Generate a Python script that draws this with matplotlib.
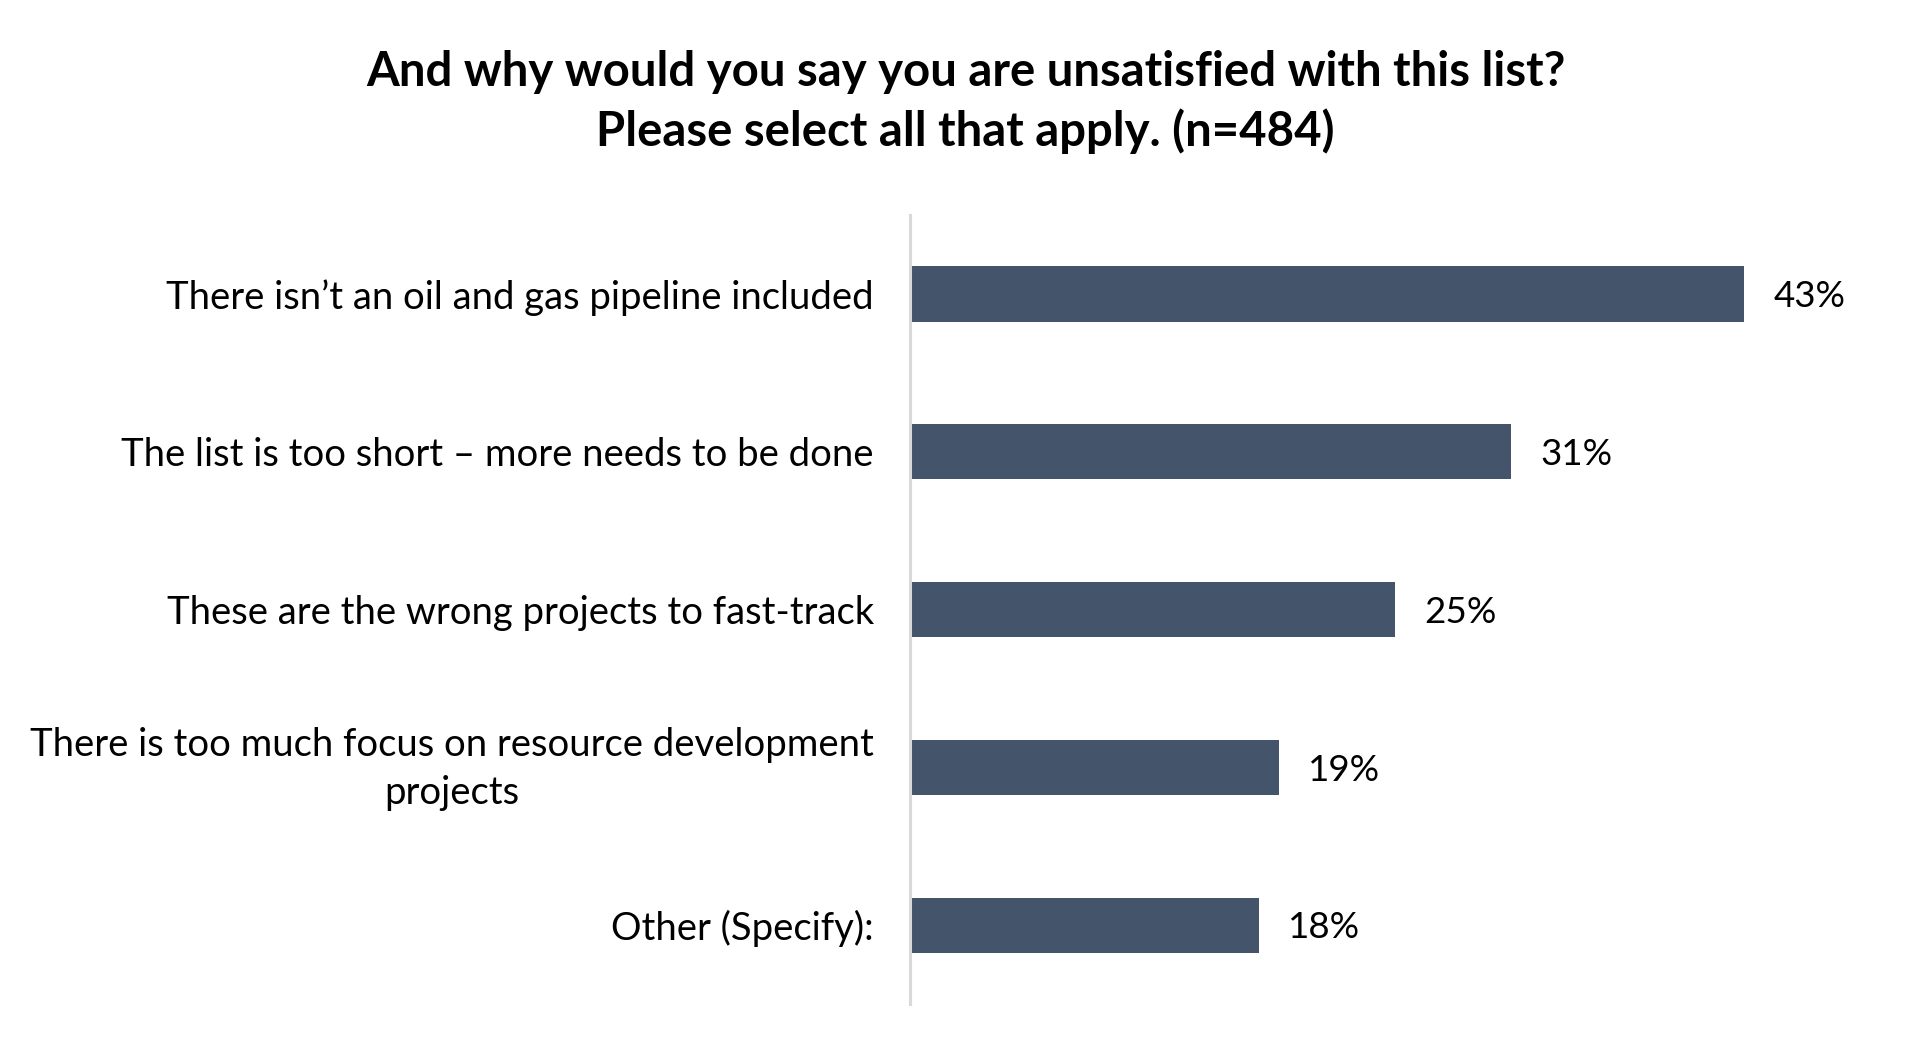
import matplotlib
matplotlib.use("Agg")
import matplotlib.pyplot as plt
from matplotlib.transforms import ScaledTranslation

# ----------------------------------------------------------------------
# data
# ----------------------------------------------------------------------
categories = [
    "There isn\u2019t an oil and gas pipeline included",
    "The list is too short \u2013 more needs to be done",
    "These are the wrong projects to fast-track",
    "There is too much focus on resource development\nprojects",
    "Other (Specify):",
]
values = [43, 31, 25, 19, 18]
value_labels = ["43%", "31%", "25%", "19%", "18%"]

TITLE = ("And why would you say you are unsatisfied with this list?\n"
         "Please select all that apply. (n=484)")

BAR = "#44546a"
AXIS = "#d9d9d9"
FONT = "Lato"

plt.rcParams["font.family"] = [FONT, "DejaVu Sans"]

fig = plt.figure(figsize=(19.31, 10.54), dpi=100)
ax = fig.add_axes([0.4713, 0.0474, 0.5023, 0.7486])

y = list(range(len(categories)))
ax.barh(y, values, height=0.35, color=BAR)

for yi, v, lab in zip(y, values, value_labels):
    ax.annotate(lab, (v, yi), xytext=(21, -2), textcoords="offset points",
                va="center", ha="left", fontsize=26.5, color="black")

ax.set_yticks(y)
ax.set_yticklabels(categories, fontsize=27.5, multialignment="center",
                   linespacing=1.42)
ax.tick_params(axis="y", length=0, pad=26)
# two-line label sits a touch high in the original
for t in ax.get_yticklabels():
    if "\n" in t.get_text():
        t.set_transform(t.get_transform()
                        + ScaledTranslation(0, 0.08, fig.dpi_scale_trans))
ax.set_xticks([])
ax.set_xlim(0, 50)
ax.set_ylim(len(categories) - 0.5, -0.5)

for s in ("top", "right", "bottom"):
    ax.spines[s].set_visible(False)
ax.spines["left"].set_color(AXIS)
ax.spines["left"].set_linewidth(2.2)

fig.text(0.5, 0.953, TITLE, ha="center", va="top", fontsize=34,
         weight="bold", linespacing=1.4)

fig.savefig("out.png", dpi=100)
